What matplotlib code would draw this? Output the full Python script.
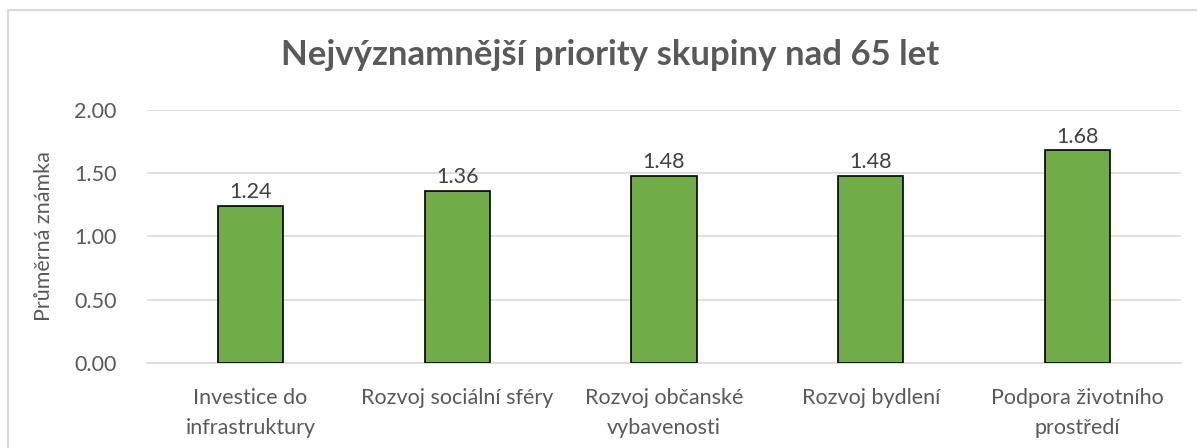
import matplotlib
matplotlib.use("Agg")
import matplotlib.pyplot as plt
from matplotlib.patches import Rectangle

categories = ["Investice do\ninfrastruktury", "Rozvoj sociální sféry", "Rozvoj občanské\nvybavenosti",
              "Rozvoj bydlení", "Podpora životního\nprostředí"]
values = [1.24, 1.36, 1.48, 1.48, 1.68]
yticks = [0.0, 0.5, 1.0, 1.5, 2.0]
title = "Nejvýznamnější priority skupiny nad 65 let"
ylabel = "Průměrná známka"

plt.rcParams['font.family'] = ['Lato', 'DejaVu Sans']
FS = 15.5

fig = plt.figure(figsize=(11.97, 4.48), dpi=100)
ax = fig.add_axes([147/1197, 1-363/448, (1181-147)/1197, (363-110)/448])

x = list(range(len(categories)))
bars = ax.bar(x, values, width=0.315, color="#70AD47", edgecolor="black", linewidth=1.2, zorder=3)
for xi, v in zip(x, values):
    ax.text(xi, v + 0.03, f"{v:.2f}", ha="center", va="bottom", fontsize=FS, color="#404040")

ax.set_xlim(-0.5, len(categories) - 0.5)
ax.set_ylim(0, 2.0)
ax.set_yticks(yticks)
ax.set_yticklabels([f"{t:.2f}" for t in yticks], fontsize=FS, color="#595959")
ax.set_xticks(x)
ax.set_xticklabels(categories, fontsize=FS, color="#595959", linespacing=1.6)
ax.tick_params(axis="x", length=0, pad=18)
ax.tick_params(axis="y", length=0, pad=22)
ax.grid(axis="y", color="#D9D9D9", linewidth=1.2, zorder=0)
for s in ["top", "right", "left"]:
    ax.spines[s].set_visible(False)
ax.spines["bottom"].set_color("#D9D9D9")
ax.spines["bottom"].set_linewidth(1.2)
ax.set_ylabel(ylabel, fontsize=FS, color="#595959", labelpad=14)

fig.text(0.51, 1-55/448, title, ha="center", va="center", fontsize=25, fontweight="bold", color="#595959")

fig.patches.append(Rectangle((8/1197, -0.1), 1.2, 1 - 10/448 + 0.1, transform=fig.transFigure,
                             fill=False, edgecolor="#D9D9D9", linewidth=1.5))

fig.savefig("out.png", dpi=100)
